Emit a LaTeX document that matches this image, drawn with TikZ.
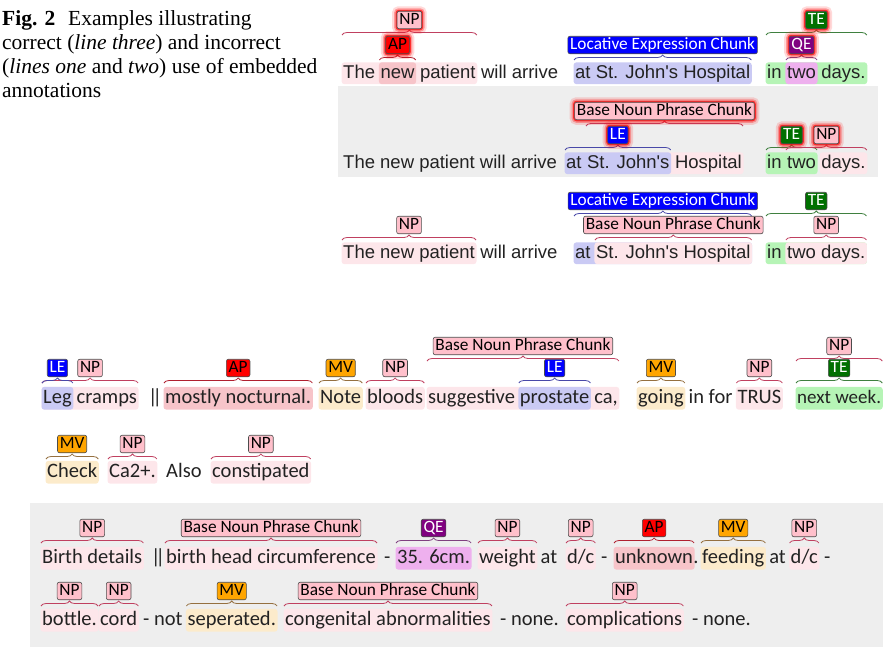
\documentclass[tikz,border=0pt]{standalone}
\usepackage{fontspec}
\setmainfont{Liberation Serif}
\newfontfamily\topfont{Liberation Sans}
\newfontfamily\medfont{Carlito}
\usetikzlibrary{calc,fit,decorations.pathreplacing}
\pgfdeclarelayer{bottom}
\pgfdeclarelayer{background}
\pgfsetlayers{bottom,background,main}
\definecolor{panelgray}{HTML}{EEEEEE}
\definecolor{txt}{HTML}{222222}
\definecolor{npfill}{HTML}{FFC0CB}
\definecolor{apfill}{HTML}{FF0000}
\definecolor{lefill}{HTML}{0000FF}
\definecolor{tefill}{HTML}{007000}
\definecolor{qefill}{HTML}{800080}
\definecolor{mvfill}{HTML}{FFA500}
\definecolor{npbg}{HTML}{FDE6EA}
\definecolor{apbg}{HTML}{F7C4C9}
\definecolor{lebg}{HTML}{CACAF4}
\definecolor{tebg}{HTML}{B6F4B6}
\definecolor{qebg}{HTML}{EEB0EE}
\definecolor{mvbg}{HTML}{FCEBCB}
\definecolor{npbr}{HTML}{C04060}
\definecolor{apbr}{HTML}{B02030}
\definecolor{lebr}{HTML}{4848A8}
\definecolor{tebr}{HTML}{3F803F}
\definecolor{qebr}{HTML}{804080}
\definecolor{mvbr}{HTML}{957040}
\newcommand\ann[7]{%
  \pgfmathsetmacro\annyb{#5+15}%
  \path (#3.base west) ++(-1,0) coordinate (#7tl);
  \path (#4.base east) ++(1,0) coordinate (#7tr);
  \coordinate (#7l) at (#7tl |- 0,\annyb);
  \coordinate (#7r) at (#7tr |- 0,\annyb);
  \draw[brc,draw=#6] (#7l) -- (#7r);
  \node[lab,#1] (#7) at ($(#7l)!0.5!(#7r)+(0,-15)$) {#2};
}
\newcommand\dbar{|\kern-5pt|}
\begin{document}
\begin{tikzpicture}[x=1pt,y=-1pt,
  tw/.style={font=\topfont\fontsize{18.5}{20}\selectfont, text=txt, inner sep=0pt, anchor=base west, text height=13.5pt, text depth=4pt},
  mw/.style={font=\medfont\fontsize{20.5}{22}\selectfont, text=txt, inner sep=0pt, anchor=base west, text height=14pt, text depth=4.5pt},
  captxt/.style={font=\fontsize{21.5}{24}\selectfont, inner sep=0pt, anchor=base west},
  lab/.style={draw=black!70, line width=0.6pt, rounded corners=2pt, inner xsep=2.3pt, inner ysep=0pt, minimum height=17.5pt, font=\medfont\fontsize{17.3}{18}\selectfont, text height=12pt, text depth=3pt},
  npL/.style={fill=npfill},
  apL/.style={fill=apfill},
  leL/.style={fill=lefill, text=white},
  teL/.style={fill=tefill, text=white},
  qeL/.style={fill=qefill, text=white},
  mvL/.style={fill=mvfill},
  glow/.style={preaction={draw=red, line width=10pt, opacity=0.15}, preaction={draw=red, line width=6pt, opacity=0.3}, preaction={draw=red, line width=3pt, opacity=0.7}},
  brc/.style={line width=0.8pt, decorate, decoration={brace, amplitude=5pt}},
  hl/.style={inner xsep=1.5pt, inner ysep=2pt, rounded corners=3pt, fill=#1}
]
\useasboundingbox (0,0) rectangle (883,651);
\begin{pgfonlayer}{bottom}
\fill[panelgray] (338,86) rectangle (878,177);
\fill[panelgray] (30,503) rectangle (883,647);
\end{pgfonlayer}

% caption
\node[captxt] (cap1) at (2,25) {\textbf{Fig. 2}\hspace{0.6em}Examples illustrating};
\node[captxt] (cap2) at (2,49) {correct (\textit{line three}) and incorrect};
\node[captxt] (cap3) at (2,73) {(\textit{lines one} and \textit{two}) use of embedded};
\node[captxt] (cap4) at (2,97) {annotations};

% ---------- top line 1
\node[tw] (ta1) at (343,78) {The};
\node[tw] (ta2) at ($(ta1.base east)+(5.1,0)$) {new};
\node[tw] (ta3) at ($(ta2.base east)+(5.1,0)$) {patient};
\node[tw] (ta4) at ($(ta3.base east)+(5.1,0)$) {will arrive};
\node[tw] (ta5) at (575,78) {at St. John's Hospital};
\node[tw] (ta6) at (767,78) {in};
\node[tw] (ta7) at ($(ta6.base east)+(5.1,0)$) {two};
\node[tw] (ta8) at ($(ta7.base east)+(5.1,0)$) {days.};
\ann{npL,glow}{NP}{ta1}{ta3}{20}{npbr}{qa1}
\ann{apL,glow}{AP}{ta2}{ta2}{45}{apbr}{qa2}
\ann{leL}{Locative Expression Chunk}{ta5}{ta5}{45}{lebr}{qa3}
\ann{teL,glow}{TE}{ta6}{ta8}{20}{tebr}{qa4}
\ann{qeL,glow}{QE}{ta7}{ta7}{45}{qebr}{qa5}

% ---------- top line 2
\node[tw] (tb1) at (343,168) {The new patient will arrive};
\node[tw] (tb2) at (566,168) {at};
\node[tw] (tb3) at ($(tb2.base east)+(5.1,0)$) {St. John's};
\node[tw] (tb4) at ($(tb3.base east)+(5.1,0)$) {Hospital};
\node[tw] (tb5) at (767,168) {in};
\node[tw] (tb6) at ($(tb5.base east)+(5.1,0)$) {two};
\node[tw] (tb7) at ($(tb6.base east)+(5.1,0)$) {days.};
\ann{npL,glow}{Base Noun Phrase Chunk}{tb3}{tb4}{111}{npbr}{qb1}
\ann{leL,glow}{LE}{tb2}{tb3}{135}{lebr}{qb2}
\ann{teL,glow}{TE}{tb5}{tb6}{135}{tebr}{qb3}
\ann{npL,glow}{NP}{tb6}{tb7}{135}{npbr}{qb4}

% ---------- top line 3
\node[tw] (tc1) at (343,258) {The new patient};
\node[tw] (tc2) at ($(tc1.base east)+(5.1,0)$) {will arrive};
\node[tw] (tc3) at (575,258) {at};
\node[tw] (tc4) at ($(tc3.base east)+(5.1,0)$) {St. John's Hospital};
\node[tw] (tc5) at (767,258) {in};
\node[tw] (tc6) at ($(tc5.base east)+(5.1,0)$) {two days.};
\ann{npL}{NP}{tc1}{tc1}{225}{npbr}{qc1}
\ann{leL}{Locative Expression Chunk}{tc3}{tc4}{201}{lebr}{qc2}
\ann{npL}{Base Noun Phrase Chunk}{tc4}{tc4}{225}{npbr}{qc3}
\ann{teL}{TE}{tc5}{tc6}{201}{tebr}{qc4}
\ann{npL}{NP}{tc6}{tc6}{225}{npbr}{qc5}

% ---------- middle line A
\node[mw] (ma1) at (43,403) {Leg};
\node[mw] (ma2) at ($(ma1.base east)+(4.6,0)$) {cramps};
\node[mw] (ma3) at (148,403) {\dbar};
\node[mw] (ma4) at (165,403) {mostly nocturnal.};
\node[mw] (ma5) at (320,403) {Note};
\node[mw] (ma6) at (367,403) {bloods};
\node[mw] (ma7) at (428,403) {suggestive};
\node[mw] (ma8) at ($(ma7.base east)+(4.6,0)$) {prostate};
\node[mw] (ma9) at ($(ma8.base east)+(4.6,0)$) {ca,};
\node[mw] (ma10) at (638,403) {going};
\node[mw] (ma11) at ($(ma10.base east)+(4.6,0)$) {in for};
\node[mw] (ma12) at ($(ma11.base east)+(4.6,0)$) {TRUS};
\node[mw, font=\medfont\fontsize{19}{22}\selectfont] (ma13) at (797,403) {next week.};
\ann{npL}{NP}{ma1}{ma2}{368}{npbr}{ra2}
\ann{leL}{LE}{ma1}{ma1}{368}{lebr}{ra1}
\ann{apL}{AP}{ma4}{ma4}{368}{apbr}{ra3}
\ann{mvL}{MV}{ma5}{ma5}{368}{mvbr}{ra4}
\ann{npL}{NP}{ma6}{ma6}{368}{npbr}{ra5}
\ann{npL}{Base Noun Phrase Chunk}{ma7}{ma9}{346}{npbr}{ra6}
\ann{leL}{LE}{ma8}{ma8}{368}{lebr}{ra7}
\ann{mvL}{MV}{ma10}{ma10}{368}{mvbr}{ra8}
\ann{npL}{NP}{ma12}{ma12}{368}{npbr}{ra9}
\ann{npL}{NP}{ma13}{ma13}{346}{npbr}{ra10}
\ann{teL}{TE}{ma13}{ma13}{368}{tebr}{ra11}

% ---------- middle line B
\node[mw] (mb1) at (47,477) {Check};
\node[mw] (mb2) at (109,477) {Ca2+.};
\node[mw] (mb3) at (166,477) {Also};
\node[mw] (mb4) at (212,477) {constipated};
\ann{mvL}{MV}{mb1}{mb1}{444}{mvbr}{rb1}
\ann{npL}{NP}{mb2}{mb2}{444}{npbr}{rb2}
\ann{npL}{NP}{mb4}{mb4}{444}{npbr}{rb3}

% ---------- bottom line C
\node[mw] (bc1) at (42,563) {Birth details};
\node[mw] (bc2) at (151,563) {\dbar};
\node[mw] (bc3) at (166,563) {birth head circumference};
\node[mw] (bc4) at (384,563) {-};
\node[mw] (bc5) at (397,563) {35. 6cm.};
\node[mw] (bc6) at (479,563) {weight};
\node[mw] (bc7) at ($(bc6.base east)+(4.6,0)$) {at};
\node[mw] (bc8) at (567,563) {d/c};
\node[mw] (bc9) at (601,563) {-};
\node[mw] (bc10) at (615,563) {unknown};
\node[mw] (bc11) at (bc10.base east) {.};
\node[mw] (bc12) at (702,563) {feeding};
\node[mw] (bc13) at ($(bc12.base east)+(4.6,0)$) {at};
\node[mw] (bc14) at ($(bc13.base east)+(4.6,0)$) {d/c};
\node[mw] (bc15) at ($(bc14.base east)+(6,0)$) {-};
\ann{npL}{NP}{bc1}{bc1}{528}{npbr}{sc1}
\ann{npL}{Base Noun Phrase Chunk}{bc3}{bc3}{528}{npbr}{sc2}
\ann{qeL}{QE}{bc5}{bc5}{528}{qebr}{sc3}
\ann{npL}{NP}{bc6}{bc6}{528}{npbr}{sc4}
\ann{npL}{NP}{bc8}{bc8}{528}{npbr}{sc5}
\ann{apL}{AP}{bc10}{bc10}{528}{apbr}{sc6}
\ann{mvL}{MV}{bc12}{bc12}{528}{mvbr}{sc7}
\ann{npL}{NP}{bc14}{bc14}{528}{npbr}{sc8}

% ---------- bottom line D
\node[mw] (bd1) at (42,625) {bottle.};
\node[mw] (bd2) at (100,625) {cord};
\node[mw] (bd3) at (143,625) {- not};
\node[mw] (bd4) at ($(bd3.base east)+(4.6,0)$) {seperated.};
\node[mw] (bd5) at (285,625) {congenital abnormalities};
\node[mw] (bd6) at (500,625) {- none.};
\node[mw] (bd7) at (567,625) {complications};
\node[mw] (bd8) at (692,625) {- none.};
\ann{npL}{NP}{bd1}{bd1}{591}{npbr}{sd1}
\ann{npL}{NP}{bd2}{bd2}{591}{npbr}{sd2}
\ann{mvL}{MV}{bd4}{bd4}{591}{mvbr}{sd3}
\ann{npL}{Base Noun Phrase Chunk}{bd5}{bd5}{591}{npbr}{sd4}
\ann{npL}{NP}{bd7}{bd7}{591}{npbr}{sd5}

% ---------- span highlights
\begin{pgfonlayer}{background}
\node[hl=npbg, fit=(ta1)(ta3)] (h1) {};
\node[hl=apbg, fit=(ta2)] (h2) {};
\node[hl=lebg, fit=(ta5)] (h3) {};
\node[hl=tebg, fit=(ta6)(ta8)] (h4) {};
\node[hl=qebg, fit=(ta7)] (h5) {};
\node[hl=npbg, fit=(tb3)(tb4)] (h6) {};
\node[hl=lebg, fit=(tb2)(tb3)] (h7) {};
\node[hl=tebg, fit=(tb5)(tb6)] (h8) {};
\node[hl=npbg, fit=(tb7)] (h9) {};
\node[hl=npbg, fit=(tc1)] (h10) {};
\node[hl=lebg, fit=(tc3)(tc4)] (h11) {};
\node[hl=npbg, fit=(tc4)] (h12) {};
\node[hl=tebg, fit=(tc5)(tc6)] (h13) {};
\node[hl=npbg, fit=(tc6)] (h14) {};
\node[hl=npbg, fit=(ma1)(ma2)] (h15) {};
\node[hl=lebg, fit=(ma1)] (h16) {};
\node[hl=apbg, fit=(ma4)] (h17) {};
\node[hl=mvbg, fit=(ma5)] (h18) {};
\node[hl=npbg, fit=(ma6)] (h19) {};
\node[hl=npbg, fit=(ma7)(ma9)] (h20) {};
\node[hl=lebg, fit=(ma8)] (h21) {};
\node[hl=mvbg, fit=(ma10)] (h22) {};
\node[hl=npbg, fit=(ma12)] (h23) {};
\node[hl=tebg, fit=(ma13)] (h24) {};
\node[hl=mvbg, fit=(mb1)] (h25) {};
\node[hl=npbg, fit=(mb2)] (h26) {};
\node[hl=npbg, fit=(mb4)] (h27) {};
\node[hl=npbg, fit=(bc1)] (h28) {};
\node[hl=npbg, fit=(bc3)] (h29) {};
\node[hl=qebg, fit=(bc5)] (h30) {};
\node[hl=npbg, fit=(bc6)] (h31) {};
\node[hl=npbg, fit=(bc8)] (h32) {};
\node[hl=apbg, fit=(bc10)] (h33) {};
\node[hl=mvbg, fit=(bc12)] (h34) {};
\node[hl=npbg, fit=(bc14)] (h35) {};
\node[hl=npbg, fit=(bd1)] (h36) {};
\node[hl=npbg, fit=(bd2)] (h37) {};
\node[hl=mvbg, fit=(bd4)] (h38) {};
\node[hl=npbg, fit=(bd5)] (h39) {};
\node[hl=npbg, fit=(bd7)] (h40) {};
\end{pgfonlayer}
\end{tikzpicture}
\end{document}
